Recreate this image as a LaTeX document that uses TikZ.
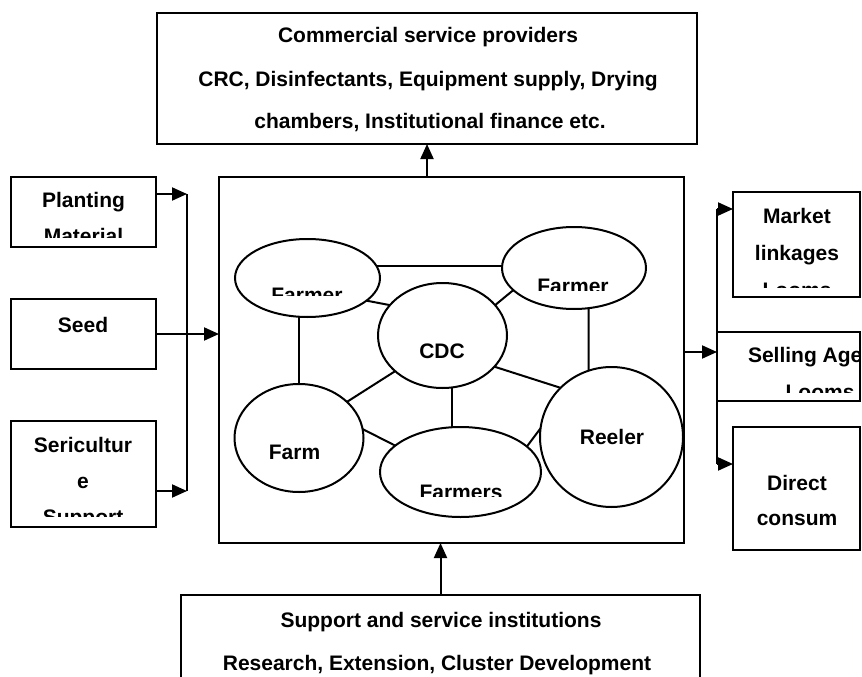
\documentclass[tikz,border=0pt]{standalone}
\usepackage{fontspec}
\setmainfont{Liberation Sans}
\usetikzlibrary{arrows.meta,shapes.geometric}
\begin{document}
\begin{tikzpicture}[x=1pt,y=-1pt,
  line width=2pt,
  box/.style={draw, rectangle, inner sep=0pt, outer sep=0pt},
  oval/.style={draw, ellipse, inner sep=0pt, outer sep=0pt},
  lbl/.style={anchor=base, inner sep=0pt, font=\bfseries\fontsize{21}{25}\selectfont},
  lblw/.style={lbl, anchor=base west},
  arr/.style={-{Triangle[length=15pt,width=13pt]}},
]
\useasboundingbox (0,0) rectangle (862,677);
\clip (0,0) rectangle (862,677);

% frames
\node[box, minimum width=540pt, minimum height=131pt] (csp) at (427,78.5) {};
\node[box, minimum width=465pt, minimum height=366pt] (cluster) at (451.5,360) {};
\node[box, minimum width=519pt, minimum height=110pt] (ssi) at (440.5,650) {};
\node[box, minimum width=145pt, minimum height=70pt] (plant) at (83.5,212) {};
\node[box, minimum width=145pt, minimum height=70pt] (seed) at (83.5,334) {};
\node[box, minimum width=145pt, minimum height=106pt] (seri) at (83.5,474) {};
\node[box, minimum width=127pt, minimum height=105pt] (market) at (796.5,244.5) {};
\node[box, minimum width=143pt, minimum height=69pt] (selling) at (788.5,366.5) {};
\node[box, minimum width=127pt, minimum height=123pt] (direct) at (796.5,488.5) {};

% cluster members
\node[oval, minimum width=145pt, minimum height=78pt] (ftl) at (307.5,278) {};
\node[oval, minimum width=144pt, minimum height=82pt] (ftr) at (574,268) {};
\node[oval, minimum width=129pt, minimum height=105pt] (cdc) at (442.5,335.5) {};
\node[oval, minimum width=129pt, minimum height=108pt] (farm) at (299,438) {};
\node[oval, minimum width=161pt, minimum height=90pt] (farmers) at (460.5,472) {};
\node[oval, minimum width=143pt, minimum height=140pt] (reeler) at (611.5,437) {};

% texts of the frames
\node[lbl] (csp1) at (428,43) {Commercial service providers};
\node[lbl] (csp2) at (428,86) {CRC, Disinfectants, Equipment supply, Drying};
\node[lbl] (csp3) at (430,128) {chambers, Institutional finance etc.};
\node[lbl] (ssi1) at (441,627) {Support and service institutions};
\node[lbl] (ssi2) at (437,670) {Research, Extension, Cluster Development};

\begin{scope}
  \clip (11,177) rectangle (156,237);
  \node[lbl] (plant1) at (83.5,207) {Planting};
  \node[lbl] (plant2) at (83.5,243) {Material};
\end{scope}
\node[lbl] (seed1) at (83,332) {Seed};
\begin{scope}
  \clip (11,421) rectangle (156,516);
  \node[lbl] (seri1) at (83,452) {Sericultur};
  \node[lbl] (seri2) at (83,488) {e};
  \node[lbl] (seri3) at (83,524) {Support};
\end{scope}
\begin{scope}
  \clip (733,192) rectangle (860,287);
  \node[lbl] (market1) at (797,223) {Market};
  \node[lbl] (market2) at (797,260) {linkages};
  \node[lbl] (market3) at (797,297) {Looms};
\end{scope}
\begin{scope}
  \clip (717,332) rectangle (860,392);
  \node[lblw] (selling1) at (747,362) {Selling Age};
  \node[lbl] (selling2) at (820,399) {Looms};
\end{scope}
\node[lbl] (direct1) at (797,490) {Direct};
\node[lbl] (direct2) at (797,525) {consum};

% texts of the members
\begin{scope}
  \clip (230,230) rectangle (390,295);
  \node[lbl] (ftlt) at (307,302) {Farmer};
\end{scope}
\begin{scope}
  \clip (500,220) rectangle (650,290);
  \node[lbl] (ftrt) at (573,293) {Farmer};
\end{scope}
\node[lbl] (cdct) at (442,358) {CDC};
\node[lbl] (farmt) at (294.5,459) {Farm};
\begin{scope}
  \clip (380,470) rectangle (545,496);
  \node[lbl] (farmerst) at (461,499) {Farmers};
\end{scope}
\node[lbl] (reelert) at (612,444) {Reeler};

% links inside the cluster
\draw (ftl.10) -- (ftl.10 -| ftr.west);
\draw (ftl.-21) -- (cdc.150);
\draw (ftr.-160) -- (cdc.30);
\draw (ftl.south -| farm.north) -- (farm.north);
\draw (ftr.-70) -- (reeler.109);
\draw (cdc.-143) -- (farm.37);
\draw (cdc.-80) -- (cdc.-80 |- farmers.north);
\draw (cdc.-31) -- (reeler.136);
\draw (farm.8) -- (farmers.158);
\draw (farmers.21) -- (reeler.173);

% inputs on the left
\coordinate (lbus1) at (187,194);
\coordinate (lbus2) at (187,491);
\draw (lbus1) -- (lbus2);
\draw[arr] (plant.east |- lbus1) -- (lbus1);
\draw[arr] (seri.east |- lbus2) -- (lbus2);
\draw[arr] (seed.east) -- (seed.east -| cluster.west);

% outputs on the right
\coordinate (rbus1) at (717,209);
\coordinate (rmid) at (717,352);
\coordinate (rbus2) at (717,464);
\draw (rbus1) -- (rbus2);
\draw[arr] (cluster.east |- rmid) -- (rmid);
\draw[arr] (rbus1) -- (rbus1 -| market.west);
\draw[arr] (rbus2) -- (rbus2 -| direct.west);

% service links
\draw[arr] (csp.south |- cluster.north) -- (csp.south);
\draw[arr] (ssi.north) -- (ssi.north |- cluster.south);
\end{tikzpicture}
\end{document}
